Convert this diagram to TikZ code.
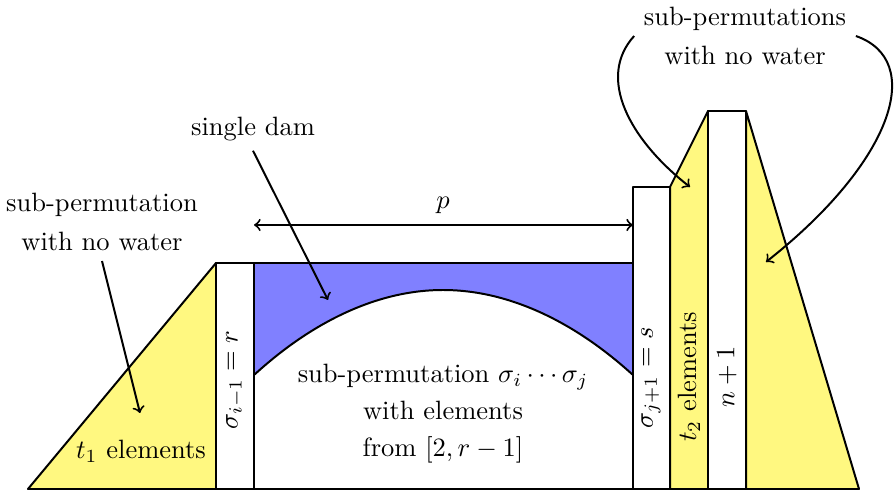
\documentclass[tikz,border=0pt]{standalone}
\begin{document}
\begin{tikzpicture}[x=0.3774pt,y=-0.3774pt, line width=0.75pt, line join=round,
  yel/.style={fill=yellow!50, draw=black},
  col/.style={fill=white, draw=black},
  water/.style={fill=blue!50, draw=black},
  lbl/.style={align=center},
  arr/.style={->}]
\useasboundingbox (0,0) rectangle (894,495);
% shapes
\draw[yel] (28,489) -- (216,263) -- (216,489) -- cycle;
\draw[col] (216,489) rectangle (254,263);
\draw[water] (254,263) -- (254,375) parabola bend (443,290) (633,375) -- (633,263) -- cycle;
\draw[col] (633,489) rectangle (670,187);
\draw[yel] (670,489) -- (670,187) -- (708,111) -- (708,489) -- cycle;
\draw[col] (708,489) rectangle (746,111);
\draw[yel] (746,489) -- (746,111) -- (859,489) -- cycle;
\draw (28,489) -- (859,489);
% p
\coordinate (pL) at (254,225);
\coordinate (pR) at (633,225);
\draw[<->] (pL) -- (pR);
\node (plab) at (443,205) {$p$};
% labels
\node[lbl] (lw) at (102,222) {sub-permutation\\[3pt]with no water};
\coordinate (lwend) at (140,413);
\draw[arr] (lw.south) -- (lwend);
\node (sd) at (253,129) {single dam};
\coordinate (sdend) at (328,300);
\draw[arr] (sd.south) -- (sdend);
\node[lbl] (rw) at (745,36) {sub-permutations\\[3pt]with no water};
\coordinate (rwA) at (690,187);
\coordinate (rwB) at (766,262);
\draw[arr] (rw.west) .. controls (596,78) and (630,140) .. (rwA);
\draw[arr] (rw.east) .. controls (925,60) and (895,160) .. (rwB);
% inner texts
\node (t1) at (141,451) {$t_1$ elements};
\node[rotate=90] (sr) at (235,380) {$\sigma_{i-1}=r$};
\node[rotate=90] (ss) at (651,378) {$\sigma_{j+1}=s$};
\node[rotate=90] (t2) at (689,377) {$t_2$ elements};
\node[rotate=90] (n1) at (727,377) {$n+1$};
\node[lbl] (mid) at (443,414) {sub-permutation $\sigma_i\cdots\sigma_j$\\[2pt]with elements\\[2pt]from $[2,r-1]$};
\end{tikzpicture}
\end{document}
